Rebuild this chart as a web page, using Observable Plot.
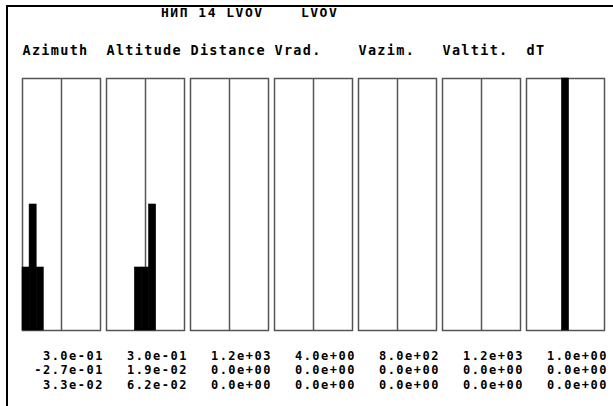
<!DOCTYPE html>
<html>
<head>
<meta charset="utf-8">
<script src="https://cdn.jsdelivr.net/npm/d3@7"></script>
<script src="https://cdn.jsdelivr.net/npm/@observablehq/plot@0.6"></script>
<style>
  html, body { margin: 0; padding: 0; background: #fff; }
  #wrap { position: relative; width: 613px; height: 406px; overflow: hidden; }
  #border { position: absolute; left: 6px; top: 5px; right: -10px; bottom: -10px;
            border-top: 2px solid #000; border-left: 2px solid #000; }
  #title { position: absolute; left: 161px; top: 5px; white-space: pre;
           font-family: "DejaVu Sans Mono", monospace; font-weight: bold; font-size: 13px;
           letter-spacing: 1.5px; color: #000; }
  #chart { position: absolute; left: 0; top: 0; }
</style>
</head>
<body>
<div id="wrap">
  <div id="border"></div>
  <div id="title"></div>
  <div id="chart"></div>
</div>
<script>
const titleText = "НИП 14 LVOV    LVOV";
const variables = ["Azimuth", "Altitude", "Distance", "Vrad.", "Vazim.", "Valtit.", "dT"];
// histogram counts per variable, 11 bins across each panel
const azimuthCounts  = [1, 2, 1, 0, 0, 0, 0, 0, 0, 0, 0];
const altitudeCounts = [0, 0, 0, 0, 1, 1, 2, 0, 0, 0, 0];
const distanceCounts = [0, 0, 0, 0, 0, 0, 0, 0, 0, 0, 0];
const vradCounts     = [0, 0, 0, 0, 0, 0, 0, 0, 0, 0, 0];
const vazimCounts    = [0, 0, 0, 0, 0, 0, 0, 0, 0, 0, 0];
const valtitCounts   = [0, 0, 0, 0, 0, 0, 0, 0, 0, 0, 0];
const dTCounts       = [0, 0, 0, 0, 0, 4, 0, 0, 0, 0, 0];
// stats rows under the panels
const scaleRow = [0.3, 0.3, 1200, 4, 800, 1200, 1];
const meanRow  = [-0.27, 0.019, 0, 0, 0, 0, 0];
const sigmaRow = [0.033, 0.062, 0, 0, 0, 0, 0];
const maxCount = 4;

const countsByVariable = [azimuthCounts, altitudeCounts, distanceCounts, vradCounts, vazimCounts, valtitCounts, dTCounts];
const binCount = azimuthCounts.length;

function fmt(v) {
  const [m, e] = v.toExponential(1).split("e");
  return m + "e" + e[0] + e.slice(1).padStart(2, "0");
}

const histData = variables.flatMap((v, i) =>
  countsByVariable[i].map((c, b) => ({variable: v, bin: b, count: c}))
).filter(d => d.count > 0);

const statsData = variables.map((v, i) => ({
  variable: v,
  label: [fmt(scaleRow[i]), fmt(meanRow[i]), fmt(sigmaRow[i])].join("\n")
}));

document.getElementById("title").textContent = titleText;

const mono = "DejaVu Sans Mono, monospace";
const chart = Plot.plot({
  width: 613,
  height: 406,
  marginLeft: 20,
  marginRight: 7,
  marginTop: 78,
  marginBottom: 76,
  style: {background: "transparent", overflow: "visible"},
  fx: {domain: variables, paddingInner: 0.077, paddingOuter: 0, axis: null},
  x: {domain: [0, binCount], axis: null},
  y: {domain: [0, maxCount], axis: null},
  marks: [
    Plot.ruleX([binCount / 2], {stroke: "#555", strokeWidth: 1.5}),
    Plot.frame({stroke: "#555", strokeWidth: 1.5}),
    Plot.rectY(histData, {fx: "variable", x1: "bin", x2: d => d.bin + 1, y: "count",
      fill: "#000", stroke: "#000", strokeWidth: 0.6}),
    Plot.text(variables, {
      fx: d => d, text: d => d, frameAnchor: "top-left", textAnchor: "start",
      lineAnchor: "bottom", dy: -24, fontFamily: mono, fontWeight: "bold", fontSize: 13.5,
      fill: "#000"
    }),
    Plot.text(statsData, {
      fx: "variable", text: "label", frameAnchor: "bottom-right", textAnchor: "end",
      lineAnchor: "top", dx: 3.5, dy: 19, lineHeight: 1.2, fontFamily: mono,
      fontWeight: "bold", fontSize: 12, fill: "#000"
    })
  ]
});
// letter spacing to mimic the wide-pitch terminal font
d3.select(chart).selectAll("text").each(function() {
  const isNumber = /e[+-]\d\d/.test(this.textContent);
  this.style.letterSpacing = isNumber ? "1.5px" : "1.3px";
});
document.getElementById("chart").appendChild(chart);
</script>
</body>
</html>
